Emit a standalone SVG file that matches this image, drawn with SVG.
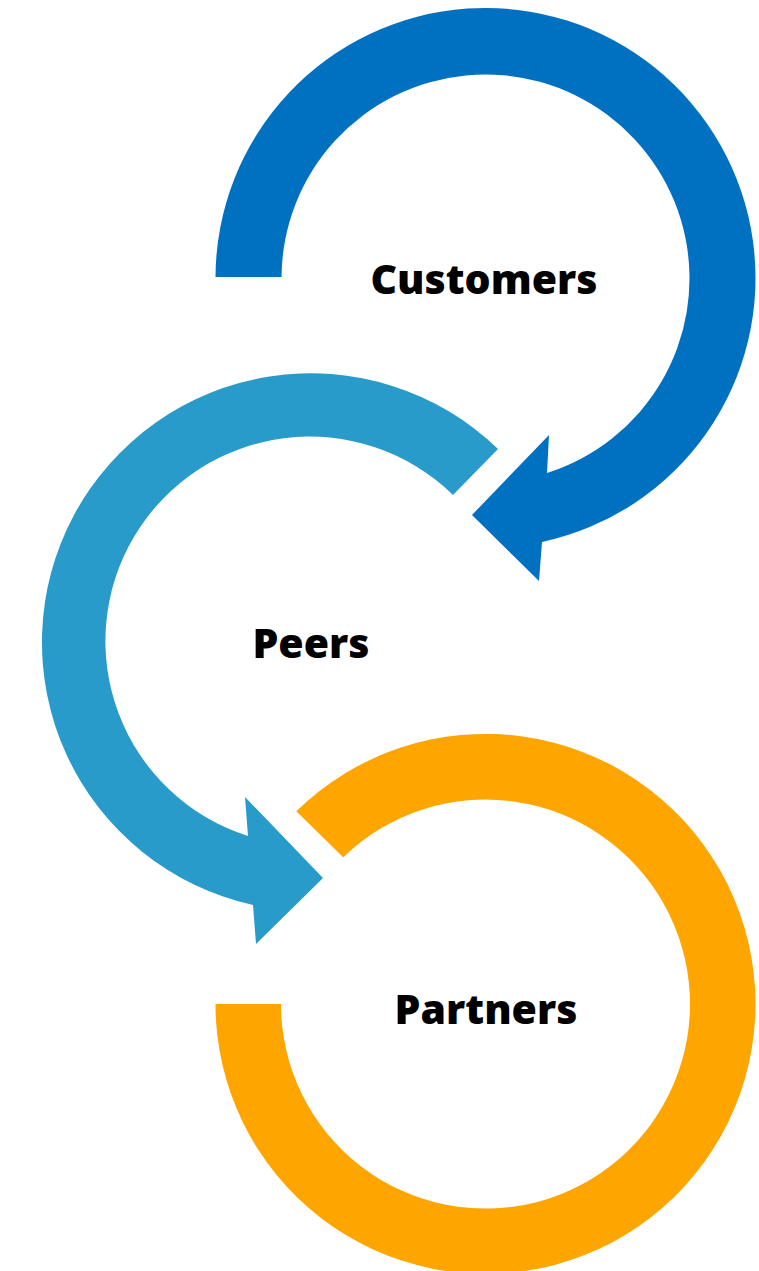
<svg xmlns="http://www.w3.org/2000/svg" width="759" height="1271" viewBox="0 0 759 1271">
<style>
.lbl{font-family:"Open Sans","Noto Sans","Liberation Sans",sans-serif;font-weight:800;font-size:41px;fill:#000;text-anchor:middle}
.blue{fill:#0070C0}
.teal{fill:#289BCA}
.orange{fill:#FFA500}
</style>
<rect width="759" height="1271" fill="#fff"/>
<g id="customers">
<path class="blue" d="M215.5,277 A270,270 0 1 1 542,542 L539,581 L472,515 L549,435 L547,473 A204,204 0 1 0 281.5,277 Z"/>
<text class="lbl" x="484" y="294">Customers</text>
</g>
<g id="peers">
<path class="teal" d="M498,449 A269,269 0 1 0 253,905 L256,944 L323,878 L245,797 L248,836 A204.5,204.5 0 1 1 453,495 Z"/>
<text class="lbl" x="311" y="658">Peers</text>
</g>
<g id="partners">
<path class="orange" d="M215.5,1004 A270,270 0 1 0 296.3,811.3 L343.2,857.2 A204.5,204.5 0 1 1 281,1004 Z"/>
<text class="lbl" x="486" y="1024">Partners</text>
</g>
<g id="connectors"></g>
</svg>
